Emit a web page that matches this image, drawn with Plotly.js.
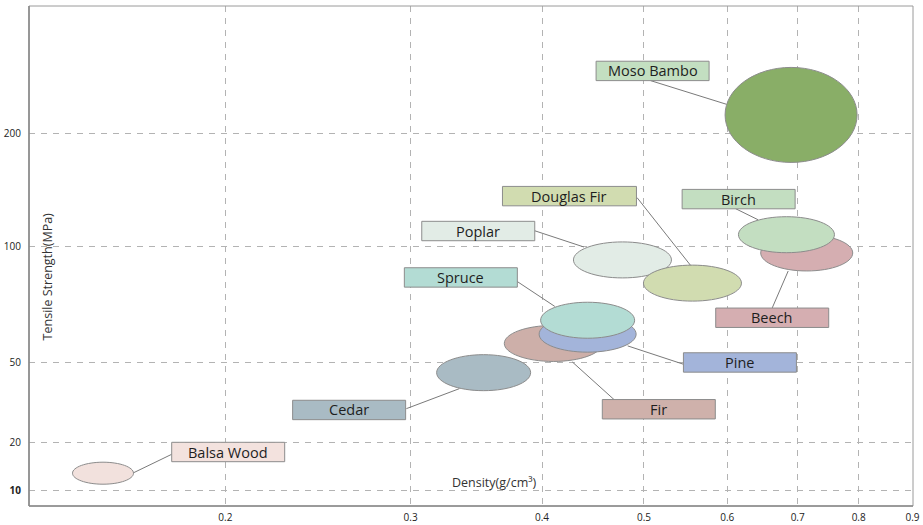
<!DOCTYPE html>
<html>
<head>
<meta charset="utf-8">
<script src="https://cdn.plot.ly/plotly-3.0.1.min.js"></script>
<style>
  html, body { margin: 0; padding: 0; background: #ffffff; }
  #chart { width: 923px; height: 525px; }
</style>
</head>
<body>
<div id="chart"></div>
<script>
// ---------------- data ----------------
const woods    = ['Balsa Wood', 'Cedar', 'Fir', 'Pine', 'Spruce', 'Poplar', 'Douglas Fir', 'Beech', 'Birch', 'Moso Bambo'];
const density  = [0.153, 0.352, 0.41, 0.442, 0.442, 0.477, 0.556, 0.714, 0.683, 0.69];  // g/cm3
const strength = [13.5, 46, 58, 62, 68, 94, 84, 97, 110, 216];                           // MPa

const xTickVals = [0.2, 0.3, 0.4, 0.5, 0.6, 0.7, 0.8, 0.9];
const xTickText = ['0.2', '0.3', '0.4', '0.5', '0.6', '0.7', '0.8', '0.9'];
const yTickVals = [10, 20, 50, 100, 200];
const yTickText = ['10', '20', '50', '100', '200'];

// ---------------- styles / geometry ----------------
const fillColors = ['#f2e1dd', '#a9bbc4', '#cdafa9', '#a3b4da', '#b3dcd4', '#e2ece6', '#d1dcb0', '#d5aeb1', '#c3dec1', '#89ae67'];
const boxColors  = ['#f3e2de', '#a9bbc4', '#cfb1ab', '#a3b4da', '#b3dcd4', '#e2ece6', '#d1dcb0', '#d5aeb1', '#c3dec1', '#c3dfc1'];
const ellW = [61, 94, 98, 97, 94, 98, 98, 92, 96, 132];
const ellH = [22, 36, 36, 36, 36, 36, 36, 36, 36, 95];
const boxW = [113, 113, 113, 113, 113, 113, 134, 113, 113, 113];
const boxH = 19.4;
// label box centre offsets from the bubble centre (screen px, +y down)
const boxOff = [[125.2, -21.2], [-134.5, 37.3], [105.5, 65.8], [152.3, 28.3], [-126.8, -42.8],
                [-144.2, -28.9], [-123, -87], [-34.5, 64.8], [-47.8, -35.6], [-138.5, -44]];
// leader line start/end offsets from the bubble centre (screen px, +y down)
const lineOff = [[30.7, -0.5, 68.7, -18.9], [-24.3, 16, -77.3, 36], [19, 18.5, 60.7, 56.1],
                 [40, 11.7, 95.6, 30], [-32.8, -13.8, -70.5, -38.8], [-38.5, -12.9, -87.8, -29.2],
                 [-2, -17.9, -55.4, -85.5], [-18.5, 18, -34.5, 55], [-28.5, -15, -50.8, -26],
                 [-64.8, -10.7, -140.5, -34.3]];

// plot geometry (px)
const W = 923, H = 525;
const plotLeft = 29.3, plotRight = 913.5, plotTop = 6, plotBottom = 506;
// the reference y axis is piecewise linear: pixel row of each y tick
const yTickPx = [490, 442, 362, 246, 133];

const gridColor = '#b3b3b3';
const gridDash = '6px,6px';
const tickFont = {family: 'Open Sans, sans-serif', size: 10, color: '#222'};

// ---------------- piecewise y axis: one overlaid linear axis per segment ----------------
const segs = [];
for (let k = 0; k < yTickVals.length - 1; k++) {
  const v0 = yTickVals[k], v1 = yTickVals[k + 1];
  const p0 = yTickPx[k], p1 = yTickPx[k + 1];
  const s = (v1 - v0) / (p0 - p1);                 // value per px in this segment
  const ticks = (k === 0) ? [0, 1] : [k + 1];       // ticks each axis shows
  segs.push({
    range: [v0 - (plotBottom - p0) * s, v0 + (p0 - plotTop) * s],
    tickvals: ticks.map(i => yTickVals[i]),
    ticktext: ticks.map(i => yTickText[i])
  });
}
function segOf(v) {
  for (let k = 0; k < segs.length - 1; k++) if (v < yTickVals[k + 1]) return k;
  return segs.length - 1;
}
const yName = k => (k === 0 ? 'y' : 'y' + (k + 1));
const yLayoutName = k => (k === 0 ? 'yaxis' : 'yaxis' + (k + 1));

// ---------------- traces (invisible points, one per segment axis) ----------------
const traces = segs.map((s, k) => {
  const idx = woods.map((w, i) => i).filter(i => segOf(strength[i]) === k);
  return {
    type: 'scatter', mode: 'markers',
    x: idx.map(i => density[i]), y: idx.map(i => strength[i]),
    text: idx.map(i => woods[i]),
    xaxis: 'x', yaxis: yName(k),
    marker: {size: 30, opacity: 0},
    hovertemplate: '%{text}<br>Density: %{x}<br>Tensile: %{y}<extra></extra>',
    showlegend: false
  };
});

// pixel-space path helpers (+y up, relative to the anchor point)
const f = n => n.toFixed(2);
function ellipsePath(rx, ry) {
  const k = 0.5523;
  return 'M' + f(rx) + ',0' +
    ' C' + f(rx) + ',' + f(k * ry) + ' ' + f(k * rx) + ',' + f(ry) + ' 0,' + f(ry) +
    ' C' + f(-k * rx) + ',' + f(ry) + ' ' + f(-rx) + ',' + f(k * ry) + ' ' + f(-rx) + ',0' +
    ' C' + f(-rx) + ',' + f(-k * ry) + ' ' + f(-k * rx) + ',' + f(-ry) + ' 0,' + f(-ry) +
    ' C' + f(k * rx) + ',' + f(-ry) + ' ' + f(rx) + ',' + f(-k * ry) + ' ' + f(rx) + ',0 Z';
}
function rectPath(x0, y0, x1, y1) {
  return 'M' + f(x0) + ',' + f(y0) + ' L' + f(x1) + ',' + f(y0) + ' L' + f(x1) + ',' + f(y1) +
         ' L' + f(x0) + ',' + f(y1) + ' Z';
}

// ---------------- shapes & annotations ----------------
const ellipses = [], lines = [], boxes = [], annotations = [];
woods.forEach((name, i) => {
  const yr = yName(segOf(strength[i]));
  const base = {type: 'path', xref: 'x', yref: yr, xsizemode: 'pixel', ysizemode: 'pixel',
                xanchor: density[i], yanchor: strength[i], layer: 'above'};
  ellipses.push(Object.assign({}, base, {
    path: ellipsePath(ellW[i] / 2, ellH[i] / 2),
    fillcolor: fillColors[i], line: {color: '#8c8c8c', width: 1}
  }));
  const L = lineOff[i];
  lines.push(Object.assign({}, base, {
    path: 'M' + f(L[0]) + ',' + f(-L[1]) + ' L' + f(L[2]) + ',' + f(-L[3]),
    line: {color: '#7a7a7a', width: 1}
  }));
  const B = boxOff[i];
  boxes.push(Object.assign({}, base, {
    path: rectPath(B[0] - boxW[i] / 2, -B[1] - boxH / 2, B[0] + boxW[i] / 2, -B[1] + boxH / 2),
    fillcolor: boxColors[i], line: {color: '#8c8c8c', width: 1}
  }));
  annotations.push({
    xref: 'x', yref: yr, x: Math.log10(density[i]), y: strength[i],
    xshift: B[0], yshift: -B[1], showarrow: false, text: name,
    font: {family: 'Open Sans, sans-serif', size: 14.5, color: '#1e1e1e'},
    xanchor: 'center', yanchor: 'middle'
  });
});

// frame
const frame = [
  {type: 'rect', xref: 'paper', yref: 'paper', x0: 0, x1: 1, y0: 0, y1: 1,
   line: {color: '#9a9a9a', width: 1}, layer: 'above'},
  {type: 'line', xref: 'paper', yref: 'paper', x0: 0, x1: 0, y0: 0, y1: 1,
   line: {color: '#8a8a8a', width: 1.6}, layer: 'above'},
  {type: 'line', xref: 'paper', yref: 'paper', x0: 0, x1: 1, y0: 0, y1: 0,
   line: {color: '#8a8a8a', width: 1.6}, layer: 'above'}
];

// axis titles (placed inside the plot as in the reference)
const plotH = plotBottom - plotTop;
annotations.push({
  xref: 'paper', yref: 'paper', x: (539 - plotLeft) / (plotRight - plotLeft), y: (plotBottom - 482) / plotH,
  xanchor: 'right', yanchor: 'middle', showarrow: false,
  text: 'Density(g/cm³)', font: {family: 'Open Sans, sans-serif', size: 12.5, color: '#333'}
});
annotations.push({
  xref: 'paper', yref: 'paper', x: (47.7 - plotLeft) / (plotRight - plotLeft), y: (plotBottom - 276) / plotH,
  xanchor: 'center', yanchor: 'middle', showarrow: false, textangle: -90,
  text: 'Tensile Strength(MPa)', font: {family: 'Open Sans, sans-serif', size: 12.5, color: '#333'}
});

const layout = {
  width: W, height: H,
  margin: {l: plotLeft, r: W - plotRight, t: plotTop, b: H - plotBottom, pad: 0},
  paper_bgcolor: '#ffffff', plot_bgcolor: '#ffffff',
  showlegend: false,
  hovermode: 'closest',
  xaxis: {
    type: 'log',
    range: [Math.log10(0.2) - (225.7 - plotLeft) / 1052, Math.log10(0.9) + 0.0005],
    tickvals: xTickVals, ticktext: xTickText,
    showgrid: true, gridcolor: gridColor, griddash: gridDash, gridwidth: 1,
    zeroline: false, showline: false, ticks: '',
    tickfont: tickFont, ticklabelstandoff: 4,
    anchor: 'y', fixedrange: true
  },
  shapes: [].concat(ellipses, lines, boxes, frame),
  annotations: annotations
};
segs.forEach((s, k) => {
  const ax = {
    type: 'linear', range: s.range, anchor: 'x', side: 'left',
    tickvals: s.tickvals, ticktext: s.ticktext,
    showgrid: true, gridcolor: gridColor, griddash: gridDash, gridwidth: 1,
    zeroline: false, showline: false, ticks: '',
    tickfont: tickFont, ticklabelstandoff: 7, fixedrange: true
  };
  if (k > 0) ax.overlaying = 'y';
  layout[yLayoutName(k)] = ax;
});
// the reference draws the "10" label in bold
layout.yaxis.ticktext = layout.yaxis.ticktext.map(t => (t === yTickText[0] ? '<b>' + t + '</b>' : t));

Plotly.newPlot('chart', traces, layout, {displayModeBar: false});
</script>
</body>
</html>
